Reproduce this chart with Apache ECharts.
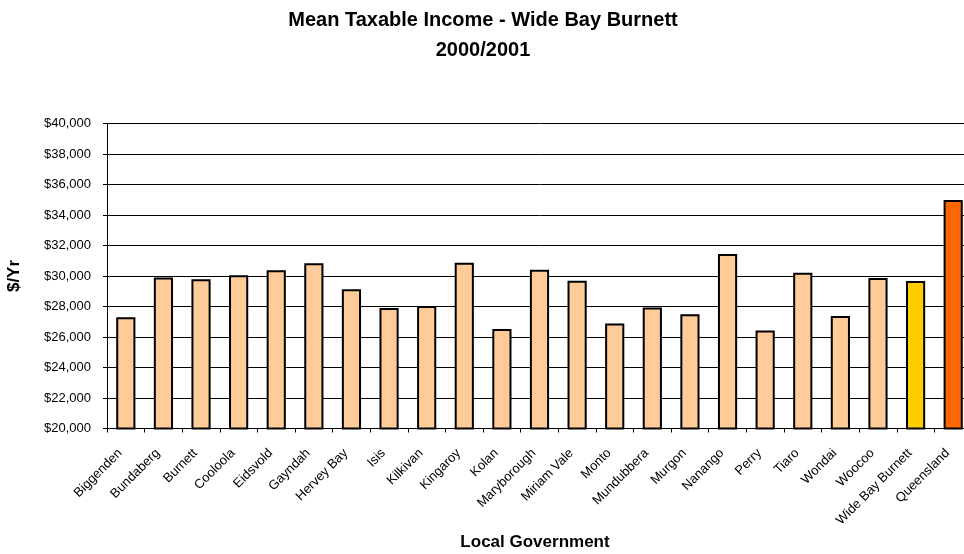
<!DOCTYPE html>
<html><head><meta charset="utf-8">
<script src="https://cdn.jsdelivr.net/npm/echarts@6/dist/echarts.min.js"></script>
<style>html,body{margin:0;padding:0;background:#fff;overflow:hidden}#c{width:980px;height:554px}</style>
</head><body><div id="c"></div>
<script>
const categories = ["Biggenden","Bundaberg","Burnett","Cooloola","Eidsvold","Gayndah","Hervey Bay","Isis","Kilkivan","Kingaroy","Kolan","Maryborough","Miriam Vale","Monto","Mundubbera","Murgon","Nanango","Perry","Tiaro","Wondai","Woocoo","Wide Bay Burnett","Queensland"];
const values = [27290,29900,29780,30050,30370,30830,29130,27900,28030,30870,26520,30410,29690,26890,27940,27500,31440,26430,30220,27370,29870,29670,34990];
const barColors = ["#FFCC99","#FFCC99","#FFCC99","#FFCC99","#FFCC99","#FFCC99","#FFCC99","#FFCC99","#FFCC99","#FFCC99","#FFCC99","#FFCC99","#FFCC99","#FFCC99","#FFCC99","#FFCC99","#FFCC99","#FFCC99","#FFCC99","#FFCC99","#FFCC99","#FFCC00","#FF6600"];
const yTicks = {min:20000, max:40000, interval:2000};
const titleLines = ["Mean Taxable Income - Wide Bay Burnett","2000/2001"];
const yName = "$/Yr";
const xName = "Local Government";

const chart = echarts.init(document.getElementById('c'), null, {renderer:'canvas'});
const font = 'Arial, "Liberation Sans", sans-serif';
chart.setOption({
  animation:false,
  backgroundColor:'#fff',
  grid:{left:107, top:123.5, width:865, height:305, containLabel:false},
  graphic:[
    {type:'text', x:483, y:20, style:{text:titleLines[0], font:'bold 20px '+font, fill:'#000', textAlign:'center', textVerticalAlign:'middle'}},
    {type:'text', x:483, y:50, style:{text:titleLines[1], font:'bold 20px '+font, fill:'#000', textAlign:'center', textVerticalAlign:'middle'}},
    {type:'text', x:535, y:542, style:{text:xName, font:'bold 17px '+font, fill:'#000', textAlign:'center', textVerticalAlign:'middle'}},
    {type:'text', x:14, y:276, rotation:Math.PI/2, style:{text:yName, font:'bold 17px '+font, fill:'#000', textAlign:'center', textVerticalAlign:'middle'}}
  ],
  xAxis:{
    type:'category', data:categories,
    axisLine:{show:true, lineStyle:{color:'#000', width:1}},
    axisTick:{show:true, alignWithLabel:false, length:4, lineStyle:{color:'#000'}},
    axisLabel:{rotate:45, interval:0, margin:17, padding:[0,8,0,0], color:'#000', fontSize:13, fontFamily:font},
    splitLine:{show:false}
  },
  yAxis:{
    type:'value', min:yTicks.min, max:yTicks.max, interval:yTicks.interval,
    axisLine:{show:true, lineStyle:{color:'#000', width:1}},
    axisTick:{show:true, length:4, lineStyle:{color:'#000'}},
    axisLabel:{color:'#000', fontSize:13, fontFamily:font, margin:16,
      formatter:v=>'$'+v.toLocaleString('en-US')},
    splitLine:{show:true, lineStyle:{color:'#000', width:1}}
  },
  series:[{
    type:'bar',
    data:values.map((v,i)=>({value:v, itemStyle:{color:barColors[i]}})),
    barWidth:'51%',
    itemStyle:{borderColor:'#000', borderWidth:2}
  }]
});
</script></body></html>
